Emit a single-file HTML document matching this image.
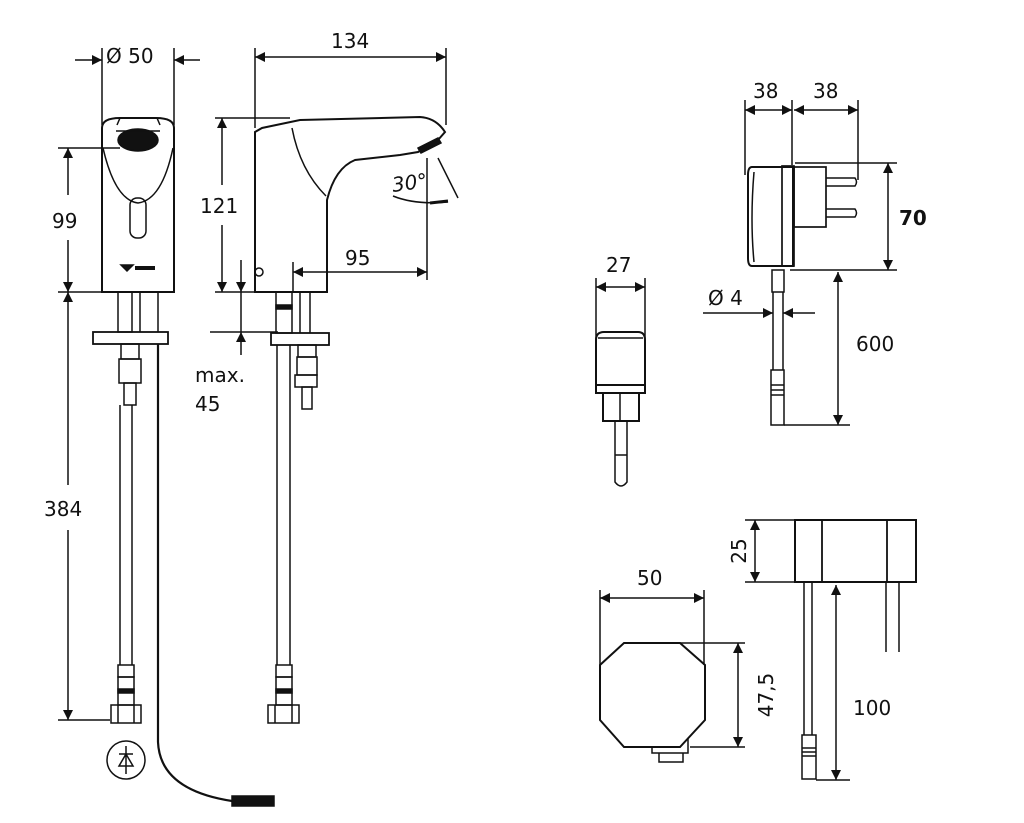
<!DOCTYPE html>
<html><head><meta charset="utf-8"><style>
html,body{margin:0;padding:0;background:#fff;}
svg{display:block}
text{font-family:"DejaVu Sans","Liberation Sans",sans-serif;fill:#111;font-size:20px}
</style></head><body>
<svg width="1024" height="823" viewBox="0 0 1024 823" xmlns="http://www.w3.org/2000/svg">
<defs>
<marker id="a" viewBox="0 0 10 10" refX="10" refY="5" markerWidth="13" markerHeight="10" markerUnits="userSpaceOnUse" orient="auto-start-reverse"><path d="M0,0L10,5L0,10z" fill="#111"/></marker>
</defs>
<g fill="none" stroke="#111" stroke-width="1.5">
<line x1="102" y1="48" x2="102" y2="125"/><line x1="174" y1="48" x2="174" y2="125"/>
<line x1="75" y1="60" x2="102" y2="60" marker-end="url(#a)"/>
<line x1="200" y1="60" x2="174" y2="60" marker-end="url(#a)"/>
<path d="M102,292 V128 Q102,118 120,118 H156 Q174,118 174,128 V292 Z" stroke-width="2"/>
<path d="M103,148 Q115,200 138,203 Q162,200 173,148"/>
<ellipse cx="138" cy="140" rx="20" ry="11" fill="#111"/>
<path d="M117,125 L120,118 M157,118 L160,125 M116,131 H160"/>
<rect x="130" y="198" width="16" height="40" rx="7"/>
<path d="M121,265 l6,6 l6,-6 z" fill="#111"/><rect x="135" y="266" width="20" height="4" fill="#111" stroke="none"/>
<line x1="58" y1="148" x2="120" y2="148"/><line x1="58" y1="292" x2="102" y2="292"/>
<line x1="58" y1="720" x2="110" y2="720"/>
<line x1="68" y1="195" x2="68" y2="148" marker-end="url(#a)"/>
<line x1="68" y1="240" x2="68" y2="292" marker-end="url(#a)"/>
<line x1="68" y1="485" x2="68" y2="292" marker-end="url(#a)"/>
<line x1="68" y1="530" x2="68" y2="720" marker-end="url(#a)"/>
<rect x="118" y="292" width="14" height="40"/>
<line x1="140" y1="292" x2="140" y2="332"/><line x1="158" y1="292" x2="158" y2="332"/>
<rect x="93" y="332" width="75" height="12" stroke-width="1.8"/>
<rect x="121" y="344" width="18" height="15"/><rect x="119" y="359" width="22" height="24"/>
<rect x="124" y="383" width="12" height="22"/>
<line x1="120" y1="405" x2="120" y2="665"/><line x1="132" y1="405" x2="132" y2="665"/>
<rect x="118" y="665" width="16" height="12"/><rect x="118" y="677" width="16" height="28"/>
<rect x="118" y="689" width="16" height="4" fill="#111"/>
<rect x="111" y="705" width="30" height="18"/><line x1="118" y1="705" x2="118" y2="723"/><line x1="134" y1="705" x2="134" y2="723"/>
<line x1="158" y1="344" x2="158" y2="742" stroke-width="2.2"/>
<path d="M158,742 Q160,790 232,801" stroke-width="2.2"/>
<rect x="232" y="796" width="42" height="10" fill="#111"/>
<circle cx="126" cy="760" r="19"/>
<path d="M126,746 V774 M119,754 H133 M119,766 H133 L126,754 Z"/>
<line x1="255" y1="48" x2="255" y2="128"/><line x1="446" y1="48" x2="446" y2="125"/>
<line x1="255" y1="57" x2="446" y2="57" marker-start="url(#a)" marker-end="url(#a)"/>
<line x1="215" y1="118" x2="290" y2="118"/>
<line x1="222" y1="185" x2="222" y2="118" marker-end="url(#a)"/>
<line x1="222" y1="225" x2="222" y2="292" marker-end="url(#a)"/>
<line x1="215" y1="292" x2="255" y2="292"/>
<path d="M255,292 V132 L262,128 L300,120 L420,117 Q436,118 445,132 L438,140 L418,152 L400,155 L355,160 Q335,168 327,200 V292 Z" stroke-width="2"/>
<path d="M292,128 Q300,170 326,196"/>
<path d="M418,148 l20,-10 l3,5 l-20,10 z" fill="#111"/>
<line x1="427" y1="158" x2="427" y2="280"/>
<line x1="293" y1="272" x2="427" y2="272" marker-start="url(#a)" marker-end="url(#a)"/>
<line x1="293" y1="262" x2="293" y2="292"/>
<circle cx="259" cy="272" r="4"/>
<path d="M393,196 Q415,205 448,202"/><path d="M430,203 l18,-2" stroke-width="3"/>
<line x1="438" y1="158" x2="458" y2="198"/>
<line x1="241" y1="260" x2="241" y2="292" marker-end="url(#a)"/>
<line x1="241" y1="355" x2="241" y2="332" marker-end="url(#a)"/>
<line x1="241" y1="292" x2="241" y2="332"/>
<line x1="210" y1="332" x2="278" y2="332"/>
<rect x="276" y="292" width="16" height="41"/><rect x="276" y="305" width="16" height="4" fill="#111"/>
<line x1="300" y1="292" x2="300" y2="333"/><line x1="310" y1="292" x2="310" y2="333"/>
<rect x="271" y="333" width="58" height="12" stroke-width="1.8"/>
<rect x="298" y="345" width="18" height="12"/><rect x="297" y="357" width="20" height="18"/>
<rect x="295" y="375" width="22" height="12"/><rect x="302" y="387" width="10" height="22"/>
<line x1="277" y1="345" x2="277" y2="665"/><line x1="290" y1="345" x2="290" y2="665"/>
<rect x="276" y="665" width="16" height="12"/><rect x="276" y="677" width="16" height="28"/>
<rect x="276" y="689" width="16" height="4" fill="#111"/>
<rect x="268" y="705" width="31" height="18"/><line x1="275" y1="705" x2="275" y2="723"/><line x1="292" y1="705" x2="292" y2="723"/>
<line x1="596" y1="278" x2="596" y2="340"/><line x1="645" y1="278" x2="645" y2="340"/>
<line x1="596" y1="287" x2="645" y2="287" marker-start="url(#a)" marker-end="url(#a)"/>
<path d="M596,340 Q596,332 604,332 H638 Q645,332 645,340 V385 H596 Z" stroke-width="2"/>
<line x1="598" y1="338" x2="643" y2="338"/>
<rect x="596" y="385" width="49" height="8" stroke-width="2"/>
<rect x="603" y="393" width="36" height="28" stroke-width="2"/>
<line x1="620" y1="393" x2="620" y2="421"/>
<path d="M615,421 V482 Q621,490 627,482 V421" />
<line x1="615" y1="455" x2="627" y2="455"/>
<line x1="745" y1="100" x2="745" y2="175"/><line x1="792" y1="100" x2="792" y2="165"/><line x1="858" y1="100" x2="858" y2="180"/>
<line x1="745" y1="110" x2="792" y2="110" marker-start="url(#a)" marker-end="url(#a)"/>
<line x1="794" y1="110" x2="858" y2="110" marker-start="url(#a)" marker-end="url(#a)"/>
<path d="M752,167 H793 V266 H752 Q748,266 748,258 V175 Q748,167 752,167 Z" stroke-width="2"/>
<path d="M754,172 Q750,220 754,262"/>
<rect x="782" y="166" width="12" height="100" stroke-width="1.7"/>
<rect x="794" y="167" width="32" height="60" stroke-width="1.7"/>
<path d="M826,178 H855 Q858,182 855,186 H826 M826,209 H855 Q858,213 855,217 H826"/>
<line x1="795" y1="163" x2="897" y2="163"/><line x1="790" y1="270" x2="897" y2="270"/>
<line x1="888" y1="163" x2="888" y2="270" marker-start="url(#a)" marker-end="url(#a)"/>
<rect x="772" y="270" width="12" height="22"/>
<line x1="773" y1="292" x2="773" y2="370"/><line x1="783" y1="292" x2="783" y2="370"/>
<path d="M771,370 H784 V425 H771 Z M771,385 H784 M771,390 H784 M771,395 H784"/>
<line x1="703" y1="313" x2="773" y2="313" marker-end="url(#a)"/>
<line x1="815" y1="313" x2="783" y2="313" marker-end="url(#a)"/>
<line x1="784" y1="425" x2="850" y2="425"/>
<line x1="838" y1="272" x2="838" y2="425" marker-start="url(#a)" marker-end="url(#a)"/>
<rect x="795" y="520" width="121" height="62" stroke-width="2"/>
<line x1="822" y1="520" x2="822" y2="582" stroke-width="1.8"/><line x1="887" y1="520" x2="887" y2="582" stroke-width="1.8"/>
<line x1="745" y1="520" x2="795" y2="520"/><line x1="745" y1="582" x2="795" y2="582"/>
<line x1="755" y1="520" x2="755" y2="582" marker-start="url(#a)" marker-end="url(#a)"/>
<line x1="804" y1="582" x2="804" y2="735"/><line x1="812" y1="582" x2="812" y2="735"/>
<path d="M802,735 H816 V779 H802 Z M802,748 H816 M802,752 H816 M802,756 H816"/>
<line x1="886" y1="582" x2="886" y2="652"/><line x1="899" y1="582" x2="899" y2="652"/>
<line x1="816" y1="780" x2="850" y2="780"/>
<line x1="836" y1="585" x2="836" y2="780" marker-start="url(#a)" marker-end="url(#a)"/>
<line x1="600" y1="590" x2="600" y2="665"/><line x1="704" y1="590" x2="704" y2="665"/>
<line x1="600" y1="598" x2="704" y2="598" marker-start="url(#a)" marker-end="url(#a)"/>
<path d="M624,643 H680 L705,665 V720 L680,747 H624 L600,720 V665 Z" stroke-width="2"/>
<path d="M652,747 V753 H688 V738 M659,753 V762 H683 V753"/>
<line x1="680" y1="643" x2="745" y2="643"/><line x1="690" y1="747" x2="745" y2="747"/>
<line x1="738" y1="643" x2="738" y2="747" marker-start="url(#a)" marker-end="url(#a)"/>
</g>
<text x="106" y="63">Ø 50</text>
<text x="52" y="228">99</text>
<text x="44" y="516">384</text>
<text x="331" y="48">134</text>
<text x="200" y="213">121</text>
<text x="345" y="265">95</text>
<text x="393" y="192" font-size="15" font-style="italic" transform="rotate(-8 393 192)">30°</text>
<text x="195" y="382">max.</text>
<text x="195" y="411">45</text>
<text x="606" y="272">27</text>
<text x="753" y="98">38</text>
<text x="813" y="98">38</text>
<text x="899" y="225" font-weight="bold">70</text>
<text x="708" y="305">Ø 4</text>
<text x="856" y="351">600</text>
<text x="637" y="585">50</text>
<text x="853" y="715">100</text>
<text transform="translate(746,551) rotate(-90)" text-anchor="middle">25</text>
<text transform="translate(773,695) rotate(-90)" text-anchor="middle">47,5</text>
</svg>
</body></html>
